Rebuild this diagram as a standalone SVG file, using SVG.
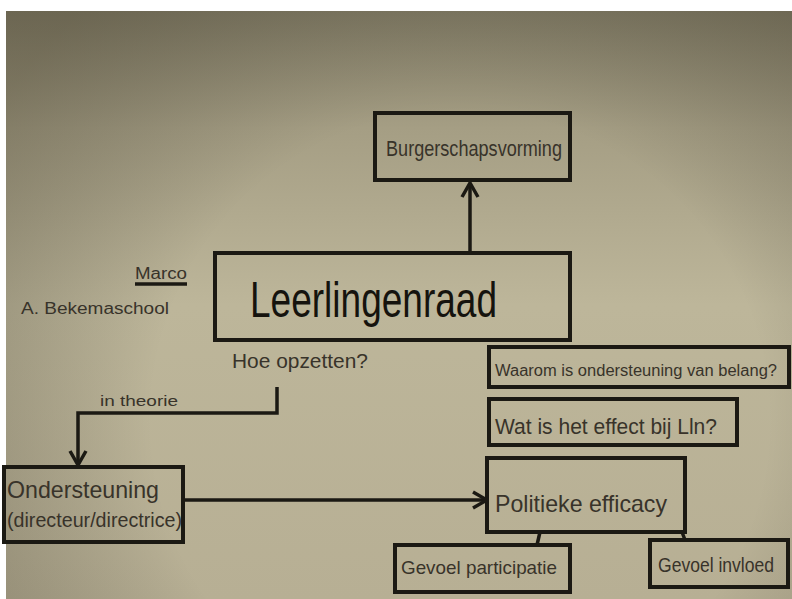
<svg xmlns="http://www.w3.org/2000/svg" width="792" height="599" viewBox="0 0 792 599">
  <defs>
    <linearGradient id="paper" x1="0" y1="11" x2="0" y2="599" gradientUnits="userSpaceOnUse">
      <stop offset="0" stop-color="#857f68"/>
      <stop offset="0.2" stop-color="#a59e84"/>
      <stop offset="0.5" stop-color="#bdb69a"/>
      <stop offset="1" stop-color="#b7af94"/>
    </linearGradient>
    <radialGradient id="vignette" cx="460" cy="420" r="560" gradientUnits="userSpaceOnUse">
      <stop offset="0.55" stop-color="#000000" stop-opacity="0"/>
      <stop offset="1" stop-color="#2a2518" stop-opacity="0.28"/>
    </radialGradient>
    <marker id="chev" viewBox="0 0 20 20" refX="18" refY="10" markerWidth="20" markerHeight="20" markerUnits="userSpaceOnUse" orient="auto">
      <path d="M4,2 L18,10 L4,18" fill="none" stroke="#1b1913" stroke-width="3.5" stroke-linejoin="miter"/>
    </marker>
    <style>
      .box { fill: none; stroke: #1b1913; stroke-width: 4; }
      .line { fill: none; stroke: #1b1913; stroke-width: 3.5; }
      .hand { font-family: "Liberation Sans", "DejaVu Sans", sans-serif; fill: #38332a; }
      .big { font-family: "Liberation Sans", "DejaVu Sans", sans-serif; fill: #15130e; }
    </style>
  </defs>
  <rect x="0" y="0" width="792" height="599" fill="#ffffff"/>
  <rect x="6" y="11" width="786" height="588" fill="url(#paper)"/>
  <rect x="6" y="11" width="786" height="588" fill="url(#vignette)"/>

  <g id="connectors">
    <line class="line" x1="470" y1="253" x2="470" y2="183" marker-end="url(#chev)"/>
    <polyline class="line" points="277,387 277,413 78,413 78,465" marker-end="url(#chev)"/>
    <line class="line" x1="183" y1="500" x2="487" y2="500" marker-end="url(#chev)"/>
    <line class="line" x1="540" y1="532" x2="537" y2="545"/>
    <line class="line" x1="682" y1="532" x2="685" y2="540"/>
    <line class="line" x1="135" y1="284" x2="187" y2="284" stroke-width="1.5"/>
  </g>

  <g id="burgerschapsvorming">
    <rect class="box" x="375" y="113" width="195" height="67"/>
    <text class="hand" x="386" y="156" font-size="22" textLength="176" lengthAdjust="spacingAndGlyphs">Burgerschapsvorming</text>
  </g>

  <g id="leerlingenraad">
    <rect class="box" x="215" y="253" width="355" height="87"/>
    <text class="big" x="250" y="317" font-size="50" textLength="247" lengthAdjust="spacingAndGlyphs">Leerlingenraad</text>
  </g>

  <g id="marco">
    <text class="hand" x="135" y="279" font-size="16" textLength="52" lengthAdjust="spacingAndGlyphs">Marco</text>
  </g>

  <g id="school">
    <text class="hand" x="21" y="314" font-size="16" textLength="148" lengthAdjust="spacingAndGlyphs">A. Bekemaschool</text>
  </g>

  <g id="hoe-opzetten">
    <text class="hand" x="232" y="368" font-size="21" textLength="136" lengthAdjust="spacingAndGlyphs">Hoe opzetten?</text>
  </g>

  <g id="in-theorie">
    <text class="hand" x="100" y="406" font-size="15" textLength="78" lengthAdjust="spacingAndGlyphs">in theorie</text>
  </g>

  <g id="ondersteuning">
    <rect class="box" x="4" y="467" width="179" height="75"/>
    <text class="hand" x="7" y="498" font-size="24" textLength="152" lengthAdjust="spacingAndGlyphs">Ondersteuning</text>
    <text class="hand" x="7" y="527" font-size="20" textLength="175" lengthAdjust="spacingAndGlyphs">(directeur/directrice)</text>
  </g>

  <g id="waarom">
    <rect class="box" x="489" y="347" width="300" height="40"/>
    <text class="hand" x="495" y="376" font-size="16" textLength="282" lengthAdjust="spacingAndGlyphs">Waarom is ondersteuning van belang?</text>
  </g>

  <g id="effect">
    <rect class="box" x="489" y="399" width="248" height="46"/>
    <text class="hand" x="495" y="434" font-size="22" textLength="222" lengthAdjust="spacingAndGlyphs">Wat is het effect bij Lln?</text>
  </g>

  <g id="politieke-efficacy">
    <rect class="box" x="487" y="458" width="198" height="74"/>
    <text class="hand" x="495" y="512" font-size="24" textLength="172" lengthAdjust="spacingAndGlyphs">Politieke efficacy</text>
  </g>

  <g id="gevoel-participatie">
    <rect class="box" x="395" y="545" width="175" height="47"/>
    <text class="hand" x="401" y="574" font-size="19" textLength="156" lengthAdjust="spacingAndGlyphs">Gevoel participatie</text>
  </g>

  <g id="gevoel-invloed">
    <rect class="box" x="650" y="540" width="138" height="47"/>
    <text class="hand" x="658" y="572" font-size="20" textLength="116" lengthAdjust="spacingAndGlyphs">Gevoel invloed</text>
  </g>
</svg>
